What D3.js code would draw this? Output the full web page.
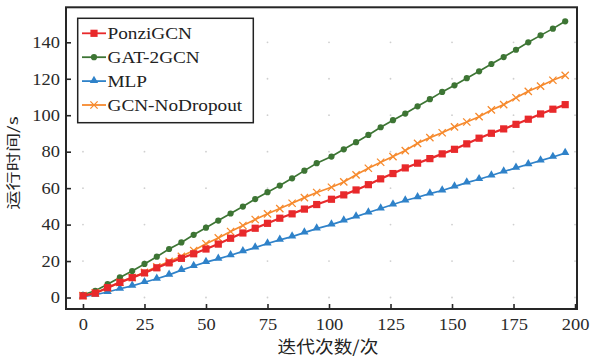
<!DOCTYPE html>
<html>
<head>
<meta charset="utf-8">
<style>
  body { margin: 0; padding: 0; background: #fff; }
  text { font-family: "Liberation Serif", "Times New Roman", serif; fill: #222; }
  .cjk { font-family: "Noto Sans CJK SC", sans-serif; }
</style>
</head>
<body>
<div id="my_dataviz"></div>
<script src="https://d3js.org/d3.v7.min.js"></script>
<script>
// iteration numbers of the plotted markers
var iterations = [0, 5, 10, 15, 20, 25, 30, 35, 40, 45, 50, 55, 60, 65, 70, 75, 80, 85, 90, 95,
                  101, 106, 111, 116, 121, 126, 131, 136, 141, 146, 151, 156, 161, 166, 171, 176, 181, 186, 191, 196];

// running time (s)
var ponziGCN = [0.9, 2.4, 5.4, 8.3, 10.9, 13.5, 16.3, 19.0, 21.5, 24.0, 26.6, 29.3, 32.5, 35.4, 38.0, 40.7, 43.5, 45.9, 48.5, 51.0,
                53.9, 56.3, 59.0, 61.9, 65.1, 68.0, 71.1, 73.7, 76.2, 78.8, 81.3, 84.3, 87.4, 90.1, 92.5, 95.0, 97.8, 100.7, 103.3, 105.8];
var gat2GCN = [1.5, 3.7, 7.3, 11.0, 14.5, 18.4, 22.4, 26.6, 30.2, 34.4, 38.3, 42.2, 46.1, 49.9, 54.0, 57.8, 61.4, 65.4, 69.6, 73.7,
               77.3, 81.3, 85.2, 89.2, 93.4, 97.3, 100.9, 104.9, 108.8, 112.8, 116.4, 120.3, 124.1, 128.1, 131.9, 135.9, 140.0, 143.8, 147.5, 151.5];
var mlp = [0.5, 1.5, 3.0, 4.8, 6.4, 8.4, 10.3, 12.4, 15.0, 17.3, 19.4, 21.2, 23.2, 25.3, 27.4, 29.6, 31.6, 33.4, 35.6, 37.8,
           40.0, 42.2, 44.4, 46.6, 48.8, 51.0, 53.2, 55.0, 57.0, 58.7, 60.8, 63.0, 64.9, 66.9, 69.1, 71.1, 73.1, 75.1, 77.1, 79.2];
var gcnNoDropout = [1.0, 2.5, 5.3, 8.3, 11.0, 13.8, 16.8, 19.8, 22.6, 25.8, 29.5, 32.7, 36.2, 39.5, 42.8, 45.9, 48.8, 51.7, 54.8, 57.6,
                    60.5, 63.4, 67.3, 70.9, 74.2, 77.3, 80.6, 84.6, 87.7, 90.4, 93.6, 96.3, 99.2, 102.9, 105.8, 109.6, 113.1, 116.0, 119.2, 121.9];

var xTicks = [0, 25, 50, 75, 100, 125, 150, 175, 200];
var yTicks = [0, 20, 40, 60, 80, 100, 120, 140];

var series = [
  {name: "PonziGCN", values: ponziGCN, color: "#e8292b", marker: "square"},
  {name: "GAT-2GCN", values: gat2GCN, color: "#3d7534", marker: "circle"},
  {name: "MLP", values: mlp, color: "#2f82c9", marker: "triangle"},
  {name: "GCN-NoDropout", values: gcnNoDropout, color: "#f68a2e", marker: "cross"}
];
var drawOrder = [1, 2, 3, 0];

var width = 592, height = 361;
var plot = {left: 66, right: 577, top: 7.3, bottom: 309};

var svg = d3.select("#my_dataviz")
  .append("svg")
    .attr("width", width)
    .attr("height", height);

var x = d3.scaleLinear().domain([-6.9, 200.8]).range([plot.left, plot.right]);
var y = d3.scaleLinear().domain([-6.3, 159.2]).range([plot.bottom, plot.top]);

// faint grid dots at tick crossings
xTicks.forEach(function(tx) {
  yTicks.forEach(function(ty) {
    svg.append("circle")
      .attr("cx", x(tx)).attr("cy", y(ty)).attr("r", 0.9)
      .style("fill", "#cfcfcf");
  });
});

// axes with inward ticks
var xAxis = svg.append("g")
  .attr("transform", "translate(0," + plot.bottom + ")")
  .call(d3.axisBottom(x).tickValues(xTicks).tickSizeInner(-5).tickSizeOuter(0).tickPadding(9));
var yAxis = svg.append("g")
  .attr("transform", "translate(" + plot.left + ",0)")
  .call(d3.axisLeft(y).tickValues(yTicks).tickSizeInner(-5).tickSizeOuter(0).tickPadding(6));

[xAxis, yAxis].forEach(function(a) {
  a.select(".domain").remove();
  a.selectAll(".tick line").attr("stroke", "#262626").attr("stroke-width", 1.6);
  a.selectAll(".tick text")
    .attr("font-family", "Liberation Serif, serif")
    .attr("font-size", 16.5)
    .style("fill", "#2a2a2a");
});
xAxis.selectAll(".tick text").attr("transform", "scale(1.12,1)");
yAxis.selectAll(".tick text").attr("x", -6 / 1.12).attr("transform", "scale(1.12,1)");

// plot frame
svg.append("rect")
  .attr("x", plot.left).attr("y", plot.top)
  .attr("width", plot.right - plot.left).attr("height", plot.bottom - plot.top)
  .style("fill", "none").style("stroke", "#262626").style("stroke-width", 2);

function drawMarker(g, type, cx, cy, color) {
  if (type === "square") {
    g.append("rect").attr("x", cx - 3.6).attr("y", cy - 3.6).attr("width", 7.2).attr("height", 7.2)
      .style("fill", color);
  } else if (type === "circle") {
    g.append("circle").attr("cx", cx).attr("cy", cy).attr("r", 3.1).style("fill", color);
  } else if (type === "triangle") {
    g.append("path").attr("d", d3.symbol(d3.symbolTriangle, 30)())
      .attr("transform", "translate(" + cx + "," + (cy - 0.5) + ")").style("fill", color);
  } else {
    g.append("path").attr("d", d3.symbol(d3.symbolTimes, 36)())
      .attr("transform", "translate(" + cx + "," + cy + ")")
      .style("fill", "none").style("stroke", color).style("stroke-width", 1.3);
  }
}

var line = d3.line()
  .x(function(d, i) { return x(iterations[i]); })
  .y(function(d) { return y(d); });

drawOrder.forEach(function(k) {
  var s = series[k];
  var g = svg.append("g");
  g.append("path")
    .datum(s.values)
    .attr("d", line)
    .style("fill", "none")
    .style("stroke", s.color)
    .style("stroke-width", s.marker === "square" ? 2.2 : 1.7);
  s.values.forEach(function(v, i) {
    drawMarker(g, s.marker, x(iterations[i]), y(v), s.color);
  });
});

// legend
var legend = svg.append("g");
legend.append("rect")
  .attr("x", 77.7).attr("y", 18.3).attr("width", 175.6).attr("height", 104.4)
  .style("fill", "#fff").style("stroke", "#222").style("stroke-width", 1.5);
series.forEach(function(s, i) {
  var ly = 33.3 + i * 23.9;
  legend.append("line")
    .attr("x1", 82).attr("x2", 106).attr("y1", ly).attr("y2", ly)
    .style("stroke", s.color).style("stroke-width", 1.8);
  drawMarker(legend, s.marker, 94, ly, s.color);
  legend.append("g")
    .attr("transform", "translate(107.5," + (ly + 6) + ")")
    .append("text")
      .attr("transform", "scale(1.1,1)")
      .attr("font-size", 17.5)
      .text(s.name);
});

// axis titles
svg.append("g")
  .attr("transform", "translate(328,353)")
  .append("text")
    .attr("class", "cjk")
    .attr("text-anchor", "middle")
    .attr("transform", "scale(1.1,1)")
    .attr("font-size", 17)
    .text("迭代次数/次");

svg.append("g")
  .attr("transform", "translate(18,163) rotate(-90)")
  .append("text")
    .attr("class", "cjk")
    .attr("text-anchor", "middle")
    .attr("transform", "scale(1.2,0.85)")
    .attr("font-size", 16)
    .text("运行时间/s");
</script>
</body>
</html>
